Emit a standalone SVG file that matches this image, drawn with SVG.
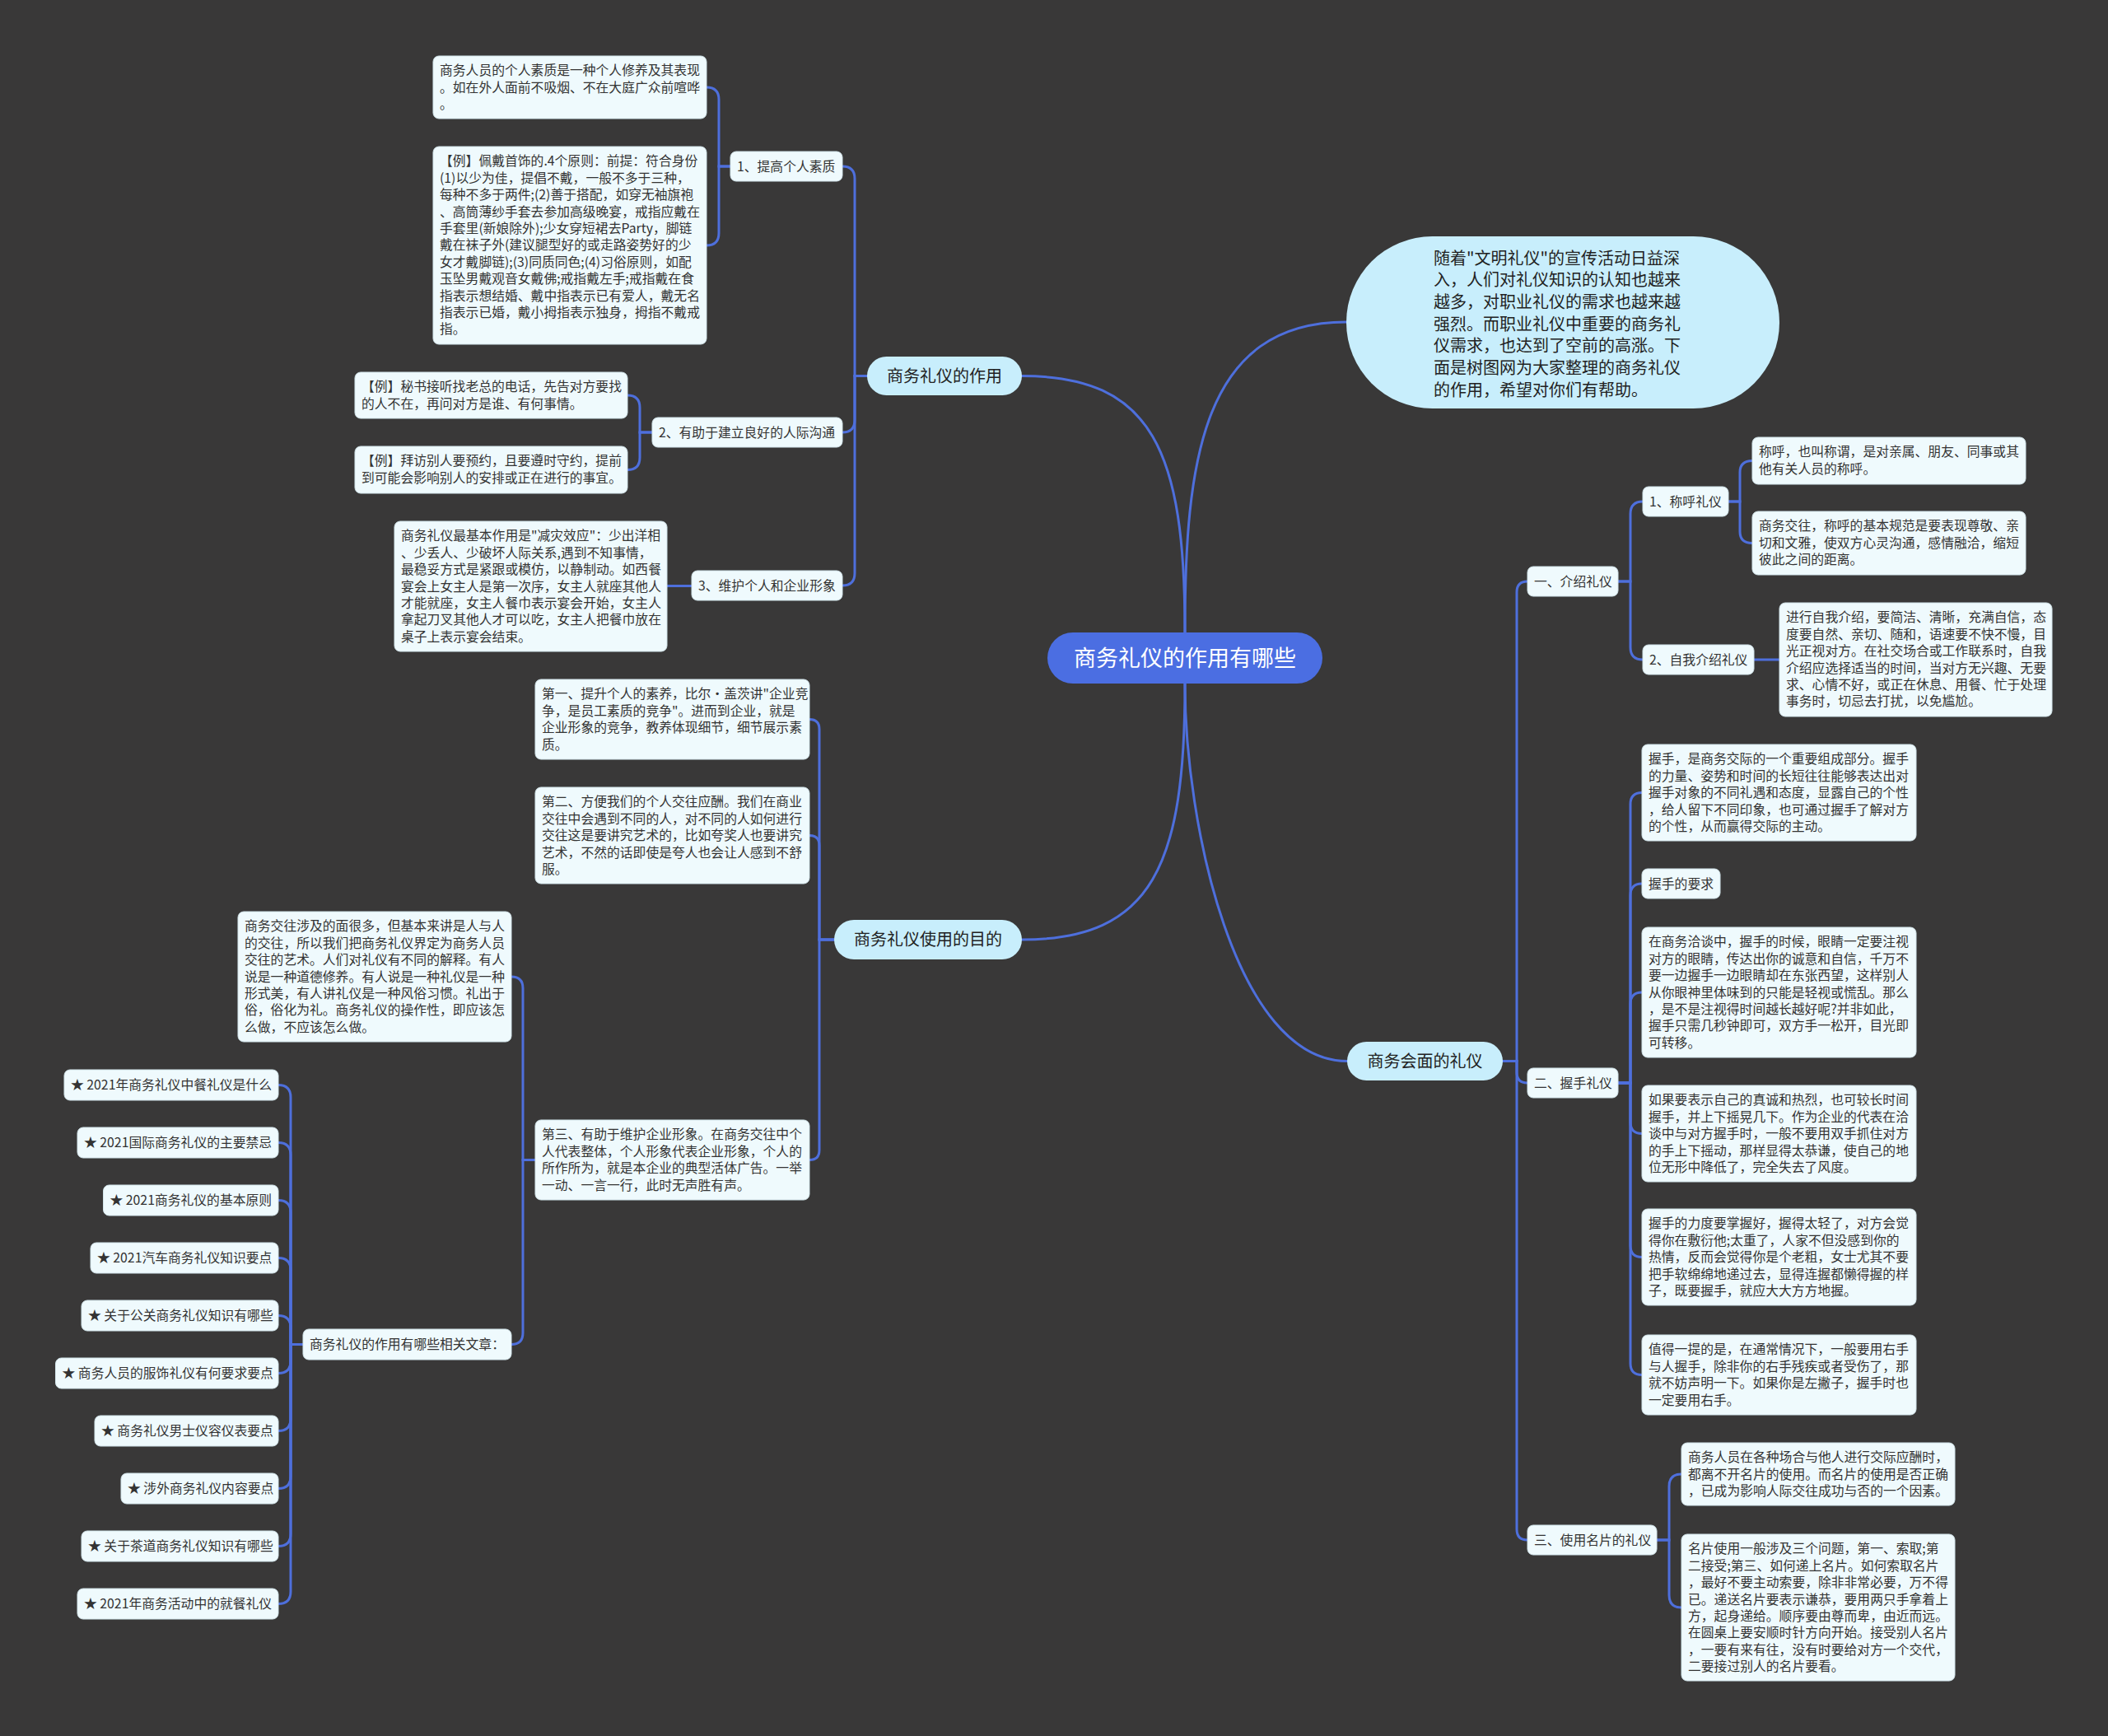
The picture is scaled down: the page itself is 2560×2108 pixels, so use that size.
<svg xmlns="http://www.w3.org/2000/svg" width="2560" height="2108" viewBox="0 0 2560 2108">
<style>
.box{fill:#effafd;stroke:#d2e4ea;stroke-width:1}
.t{font-family:"Noto Sans CJK SC","Noto Sans",sans-serif;font-size:15.8px;fill:#333333}
.pill{fill:#c8eefc}
.pt{font-family:"Noto Sans CJK SC","Noto Sans",sans-serif;font-size:20px;fill:#222222;text-anchor:middle}
.bt{font-family:"Noto Sans CJK SC","Noto Sans",sans-serif;font-size:20px;fill:#222222}
.root{fill:#4b6ee2}
.rt{font-family:"Noto Sans CJK SC","Noto Sans",sans-serif;font-size:27px;fill:#ffffff;text-anchor:middle}
.ln{fill:none;stroke:#4e6fdc;stroke-width:3;stroke-linecap:round}
</style>
<rect x="0" y="0" width="2560" height="2108" fill="#393838"/>
<g id="connectors">
<path class="ln" d="M1439,768 C1439,548 1400,456.5 1241,456.5"/>
<path class="ln" d="M1439,768 C1439,560 1460,391 1635,391"/>
<path class="ln" d="M1439,830 C1439,1050 1400,1141 1241,1141"/>
<path class="ln" d="M1439,830 C1439,1000 1500,1288.5 1636,1288.5"/>
<path class="ln" d="M1053,456.5 H1038 V217 Q1038,202 1023,202"/>
<path class="ln" d="M1053,456.5 H1038 V510 Q1038,525 1023,525"/>
<path class="ln" d="M1053,456.5 H1038 V696 Q1038,711 1023,711"/>
<path class="ln" d="M887,202 H873 V121 Q873,106 858,106"/>
<path class="ln" d="M887,202 H873 V283 Q873,298 858,298"/>
<path class="ln" d="M792,525 H777 V495 Q777,480 762,480"/>
<path class="ln" d="M792,525 H777 V555.5 Q777,570.5 762,570.5"/>
<path class="ln" d="M840,711.5 H810"/>
<path class="ln" d="M1013,1141 H995 V885.5 Q995,873.5 983,873.5"/>
<path class="ln" d="M1013,1141 H995 V1026.5 Q995,1014.5 983,1014.5"/>
<path class="ln" d="M1013,1141 H995 V1396.5 Q995,1408.5 983,1408.5"/>
<path class="ln" d="M650,1408.5 H635 V1200 Q635,1186 621,1186"/>
<path class="ln" d="M650,1408.5 H635 V1618.5 Q635,1632.5 621,1632.5"/>
<path class="ln" d="M368,1632.5 H353 V1332.5 Q353,1317.5 338,1317.5"/>
<path class="ln" d="M368,1632.5 H353 V1402.5 Q353,1387.5 338,1387.5"/>
<path class="ln" d="M368,1632.5 H353 V1472.5 Q353,1457.5 338,1457.5"/>
<path class="ln" d="M368,1632.5 H353 V1542.5 Q353,1527.5 338,1527.5"/>
<path class="ln" d="M368,1632.5 H353 V1612.5 Q353,1597.5 338,1597.5"/>
<path class="ln" d="M368,1632.5 H353 V1652.5 Q353,1667.5 338,1667.5"/>
<path class="ln" d="M368,1632.5 H353 V1722.5 Q353,1737.5 338,1737.5"/>
<path class="ln" d="M368,1632.5 H353 V1792.5 Q353,1807.5 338,1807.5"/>
<path class="ln" d="M368,1632.5 H353 V1862.5 Q353,1877.5 338,1877.5"/>
<path class="ln" d="M368,1632.5 H353 V1932.5 Q353,1947.5 338,1947.5"/>
<path class="ln" d="M1825,1288.5 H1842 V719 Q1842,706 1855,706"/>
<path class="ln" d="M1825,1288.5 H1842 V1302 Q1842,1315 1855,1315"/>
<path class="ln" d="M1825,1288.5 H1842 V1857 Q1842,1870 1855,1870"/>
<path class="ln" d="M1965,706 H1980 V624 Q1980,609 1995,609"/>
<path class="ln" d="M1965,706 H1980 V786 Q1980,801 1995,801"/>
<path class="ln" d="M2099,609 H2113 V573.5 Q2113,559.5 2128,559.5"/>
<path class="ln" d="M2099,609 H2113 V645.5 Q2113,659.5 2128,659.5"/>
<path class="ln" d="M2130,801 H2161"/>
<path class="ln" d="M1965,1315 H1980 V976.5 Q1980,962.5 1994,962.5"/>
<path class="ln" d="M1965,1315 H1980 V1087 Q1980,1073 1994,1073"/>
<path class="ln" d="M1965,1315 H1980 V1219 Q1980,1205 1994,1205"/>
<path class="ln" d="M1965,1315 H1980 V1362.5 Q1980,1376.5 1994,1376.5"/>
<path class="ln" d="M1965,1315 H1980 V1512.5 Q1980,1526.5 1994,1526.5"/>
<path class="ln" d="M1965,1315 H1980 V1655.5 Q1980,1669.5 1994,1669.5"/>
<path class="ln" d="M2012,1870 H2027 V1805 Q2027,1790 2042,1790"/>
<path class="ln" d="M2012,1870 H2027 V1937 Q2027,1952 2042,1952"/>
</g>
<g id="root">
<rect class="root" x="1272" y="768" width="334" height="62" rx="31"/>
<text class="rt" x="1439" y="808.7">商务礼仪的作用有哪些</text>
</g>
<g id="intro">
<rect class="pill" x="1635" y="287" width="526" height="209" rx="104.5"/>
<text class="bt" x="1741" y="320.5">随着"文明礼仪"的宣传活动日益深</text>
<text class="bt" x="1741" y="347.2">入，人们对礼仪知识的认知也越来</text>
<text class="bt" x="1741" y="373.9">越多，对职业礼仪的需求也越来越</text>
<text class="bt" x="1741" y="400.6">强烈。而职业礼仪中重要的商务礼</text>
<text class="bt" x="1741" y="427.3">仪需求，也达到了空前的高涨。下</text>
<text class="bt" x="1741" y="454">面是树图网为大家整理的商务礼仪</text>
<text class="bt" x="1741" y="480.7">的作用，希望对你们有帮助。</text>
</g>
<g id="b-zuoyong">
<rect class="pill" x="1053" y="433" width="188" height="47" rx="23.5"/>
<text class="pt" x="1147" y="463.7">商务礼仪的作用</text>
</g>
<g id="b-mudi">
<rect class="pill" x="1013" y="1117" width="228" height="48" rx="24"/>
<text class="pt" x="1127" y="1148.2">商务礼仪使用的目的</text>
</g>
<g id="b-huimian">
<rect class="pill" x="1636" y="1265" width="189" height="47" rx="23.5"/>
<text class="pt" x="1730.5" y="1295.7">商务会面的礼仪</text>
</g>
<g id="n-suzhi">
<rect class="box" x="887" y="184" width="136" height="36" rx="7"/>
<text class="t" x="895" y="207.7">1、提高个人素质</text>
</g>
<g id="n-a">
<rect class="box" x="526" y="68" width="332" height="76" rx="7"/>
<text class="t" x="534" y="91.4">商务人员的个人素质是一种个人修养及其表现</text>
<text class="t" x="534" y="111.8">。如在外人面前不吸烟、不在大庭广众前喧哗</text>
<text class="t" x="534" y="132.2">。</text>
</g>
<g id="n-b">
<rect class="box" x="526" y="178" width="332" height="240" rx="7"/>
<text class="t" x="534" y="201.4">【例】佩戴首饰的.4个原则：前提：符合身份</text>
<text class="t" x="534" y="221.8">(1)以少为佳，提倡不戴，一般不多于三种，</text>
<text class="t" x="534" y="242.2">每种不多于两件;(2)善于搭配，如穿无袖旗袍</text>
<text class="t" x="534" y="262.6">、高筒薄纱手套去参加高级晚宴，戒指应戴在</text>
<text class="t" x="534" y="283">手套里(新娘除外);少女穿短裙去Party，脚链</text>
<text class="t" x="534" y="303.4">戴在袜子外(建议腿型好的或走路姿势好的少</text>
<text class="t" x="534" y="323.8">女才戴脚链);(3)同质同色;(4)习俗原则，如配</text>
<text class="t" x="534" y="344.2">玉坠男戴观音女戴佛;戒指戴左手;戒指戴在食</text>
<text class="t" x="534" y="364.6">指表示想结婚、戴中指表示已有爱人，戴无名</text>
<text class="t" x="534" y="385">指表示已婚，戴小拇指表示独身，拇指不戴戒</text>
<text class="t" x="534" y="405.4">指。</text>
</g>
<g id="n-goutong">
<rect class="box" x="792" y="507" width="231" height="36" rx="7"/>
<text class="t" x="800" y="530.7">2、有助于建立良好的人际沟通</text>
</g>
<g id="n-c">
<rect class="box" x="431" y="452" width="331" height="56" rx="7"/>
<text class="t" x="439" y="475.4">【例】秘书接听找老总的电话，先告对方要找</text>
<text class="t" x="439" y="495.8">的人不在，再问对方是谁、有何事情。</text>
</g>
<g id="n-d">
<rect class="box" x="431" y="542" width="331" height="57" rx="7"/>
<text class="t" x="439" y="565.4">【例】拜访别人要预约，且要遵时守约，提前</text>
<text class="t" x="439" y="585.8">到可能会影响别人的安排或正在进行的事宜。</text>
</g>
<g id="n-xingxiang">
<rect class="box" x="840" y="693" width="183" height="36" rx="7"/>
<text class="t" x="848" y="716.7">3、维护个人和企业形象</text>
</g>
<g id="n-e">
<rect class="box" x="479" y="633" width="331" height="158" rx="7"/>
<text class="t" x="487" y="656.4">商务礼仪最基本作用是"减灾效应"：少出洋相</text>
<text class="t" x="487" y="676.8">、少丢人、少破坏人际关系,遇到不知事情，</text>
<text class="t" x="487" y="697.2">最稳妥方式是紧跟或模仿，以静制动。如西餐</text>
<text class="t" x="487" y="717.6">宴会上女主人是第一次序，女主人就座其他人</text>
<text class="t" x="487" y="738">才能就座，女主人餐巾表示宴会开始，女主人</text>
<text class="t" x="487" y="758.4">拿起刀叉其他人才可以吃，女主人把餐巾放在</text>
<text class="t" x="487" y="778.8">桌子上表示宴会结束。</text>
</g>
<g id="n-di1">
<rect class="box" x="650" y="825" width="333" height="97" rx="7"/>
<text class="t" x="658" y="848.4">第一、提升个人的素养，比尔·盖茨讲"企业竞</text>
<text class="t" x="658" y="868.8">争，是员工素质的竞争"。进而到企业，就是</text>
<text class="t" x="658" y="889.2">企业形象的竞争，教养体现细节，细节展示素</text>
<text class="t" x="658" y="909.6">质。</text>
</g>
<g id="n-di2">
<rect class="box" x="650" y="956" width="333" height="117" rx="7"/>
<text class="t" x="658" y="979.4">第二、方便我们的个人交往应酬。我们在商业</text>
<text class="t" x="658" y="999.8">交往中会遇到不同的人，对不同的人如何进行</text>
<text class="t" x="658" y="1020.2">交往这是要讲究艺术的，比如夸奖人也要讲究</text>
<text class="t" x="658" y="1040.6">艺术，不然的话即使是夸人也会让人感到不舒</text>
<text class="t" x="658" y="1061">服。</text>
</g>
<g id="n-di3">
<rect class="box" x="650" y="1360" width="333" height="97" rx="7"/>
<text class="t" x="658" y="1383.4">第三、有助于维护企业形象。在商务交往中个</text>
<text class="t" x="658" y="1403.8">人代表整体，个人形象代表企业形象，个人的</text>
<text class="t" x="658" y="1424.2">所作所为，就是本企业的典型活体广告。一举</text>
<text class="t" x="658" y="1444.6">一动、一言一行，此时无声胜有声。</text>
</g>
<g id="n-jiaowang">
<rect class="box" x="289" y="1107" width="332" height="158" rx="7"/>
<text class="t" x="297" y="1130.4">商务交往涉及的面很多，但基本来讲是人与人</text>
<text class="t" x="297" y="1150.8">的交往，所以我们把商务礼仪界定为商务人员</text>
<text class="t" x="297" y="1171.2">交往的艺术。人们对礼仪有不同的解释。有人</text>
<text class="t" x="297" y="1191.6">说是一种道德修养。有人说是一种礼仪是一种</text>
<text class="t" x="297" y="1212">形式美，有人讲礼仪是一种风俗习惯。礼出于</text>
<text class="t" x="297" y="1232.4">俗，俗化为礼。商务礼仪的操作性，即应该怎</text>
<text class="t" x="297" y="1252.8">么做，不应该怎么做。</text>
</g>
<g id="n-xiangguan">
<rect class="box" x="368" y="1614" width="253" height="37" rx="7"/>
<text class="t" x="376" y="1638.2">商务礼仪的作用有哪些相关文章：</text>
</g>
<g id="n-r1"><rect class="box" x="78" y="1299" width="260" height="37" rx="7"/><text class="t" x="86" y="1323.2">★ 2021年商务礼仪中餐礼仪是什么</text></g>
<g id="n-r2"><rect class="box" x="94" y="1369" width="244" height="37" rx="7"/><text class="t" x="102" y="1393.2">★ 2021国际商务礼仪的主要禁忌</text></g>
<g id="n-r3"><rect class="box" x="125.5" y="1439" width="212.5" height="37" rx="7"/><text class="t" x="133.5" y="1463.2">★ 2021商务礼仪的基本原则</text></g>
<g id="n-r4"><rect class="box" x="110" y="1509" width="228" height="37" rx="7"/><text class="t" x="118" y="1533.2">★ 2021汽车商务礼仪知识要点</text></g>
<g id="n-r5"><rect class="box" x="99" y="1579" width="239" height="37" rx="7"/><text class="t" x="107" y="1603.2">★ 关于公关商务礼仪知识有哪些</text></g>
<g id="n-r6"><rect class="box" x="67.5" y="1649" width="270.5" height="37" rx="7"/><text class="t" x="75.5" y="1673.2">★ 商务人员的服饰礼仪有何要求要点</text></g>
<g id="n-r7"><rect class="box" x="115" y="1719" width="223" height="37" rx="7"/><text class="t" x="123" y="1743.2">★ 商务礼仪男士仪容仪表要点</text></g>
<g id="n-r8"><rect class="box" x="147" y="1789" width="191" height="37" rx="7"/><text class="t" x="155" y="1813.2">★ 涉外商务礼仪内容要点</text></g>
<g id="n-r9"><rect class="box" x="99" y="1859" width="239" height="37" rx="7"/><text class="t" x="107" y="1883.2">★ 关于茶道商务礼仪知识有哪些</text></g>
<g id="n-r10"><rect class="box" x="94" y="1929" width="244" height="37" rx="7"/><text class="t" x="102" y="1953.2">★ 2021年商务活动中的就餐礼仪</text></g>
<g id="n-jieshao">
<rect class="box" x="1855" y="688" width="110" height="36" rx="7"/>
<text class="t" x="1863" y="711.7">一、介绍礼仪</text>
</g>
<g id="n-chenghu">
<rect class="box" x="1995" y="591" width="104" height="36" rx="7"/>
<text class="t" x="2003" y="614.7">1、称呼礼仪</text>
</g>
<g id="n-f">
<rect class="box" x="2128" y="531" width="332" height="57" rx="7"/>
<text class="t" x="2136" y="554.4">称呼，也叫称谓，是对亲属、朋友、同事或其</text>
<text class="t" x="2136" y="574.8">他有关人员的称呼。</text>
</g>
<g id="n-g">
<rect class="box" x="2128" y="621" width="332" height="77" rx="7"/>
<text class="t" x="2136" y="644.4">商务交往，称呼的基本规范是要表现尊敬、亲</text>
<text class="t" x="2136" y="664.8">切和文雅，使双方心灵沟通，感情融洽，缩短</text>
<text class="t" x="2136" y="685.2">彼此之间的距离。</text>
</g>
<g id="n-ziwo">
<rect class="box" x="1995" y="783" width="135" height="36" rx="7"/>
<text class="t" x="2003" y="806.7">2、自我介绍礼仪</text>
</g>
<g id="n-h">
<rect class="box" x="2161" y="732" width="331" height="138" rx="7"/>
<text class="t" x="2169" y="755.4">进行自我介绍，要简洁、清晰，充满自信，态</text>
<text class="t" x="2169" y="775.8">度要自然、亲切、随和，语速要不快不慢，目</text>
<text class="t" x="2169" y="796.2">光正视对方。在社交场合或工作联系时，自我</text>
<text class="t" x="2169" y="816.6">介绍应选择适当的时间，当对方无兴趣、无要</text>
<text class="t" x="2169" y="837">求、心情不好，或正在休息、用餐、忙于处理</text>
<text class="t" x="2169" y="857.4">事务时，切忌去打扰，以免尴尬。</text>
</g>
<g id="n-woshou">
<rect class="box" x="1855" y="1297" width="110" height="36" rx="7"/>
<text class="t" x="1863" y="1320.7">二、握手礼仪</text>
</g>
<g id="n-i">
<rect class="box" x="1994" y="904" width="333" height="117" rx="7"/>
<text class="t" x="2002" y="927.4">握手，是商务交际的一个重要组成部分。握手</text>
<text class="t" x="2002" y="947.8">的力量、姿势和时间的长短往往能够表达出对</text>
<text class="t" x="2002" y="968.2">握手对象的不同礼遇和态度，显露自己的个性</text>
<text class="t" x="2002" y="988.6">，给人留下不同印象，也可通过握手了解对方</text>
<text class="t" x="2002" y="1009">的个性，从而赢得交际的主动。</text>
</g>
<g id="n-j">
<rect class="box" x="1994" y="1055" width="95" height="36" rx="7"/>
<text class="t" x="2002" y="1078.7">握手的要求</text>
</g>
<g id="n-k">
<rect class="box" x="1994" y="1126" width="333" height="158" rx="7"/>
<text class="t" x="2002" y="1149.4">在商务洽谈中，握手的时候，眼睛一定要注视</text>
<text class="t" x="2002" y="1169.8">对方的眼睛，传达出你的诚意和自信，千万不</text>
<text class="t" x="2002" y="1190.2">要一边握手一边眼睛却在东张西望，这样别人</text>
<text class="t" x="2002" y="1210.6">从你眼神里体味到的只能是轻视或慌乱。那么</text>
<text class="t" x="2002" y="1231">，是不是注视得时间越长越好呢?并非如此，</text>
<text class="t" x="2002" y="1251.4">握手只需几秒钟即可，双方手一松开，目光即</text>
<text class="t" x="2002" y="1271.8">可转移。</text>
</g>
<g id="n-l">
<rect class="box" x="1994" y="1318" width="333" height="117" rx="7"/>
<text class="t" x="2002" y="1341.4">如果要表示自己的真诚和热烈，也可较长时间</text>
<text class="t" x="2002" y="1361.8">握手，并上下摇晃几下。作为企业的代表在洽</text>
<text class="t" x="2002" y="1382.2">谈中与对方握手时，一般不要用双手抓住对方</text>
<text class="t" x="2002" y="1402.6">的手上下摇动，那样显得太恭谦，使自己的地</text>
<text class="t" x="2002" y="1423">位无形中降低了，完全失去了风度。</text>
</g>
<g id="n-m">
<rect class="box" x="1994" y="1468" width="333" height="117" rx="7"/>
<text class="t" x="2002" y="1491.4">握手的力度要掌握好，握得太轻了，对方会觉</text>
<text class="t" x="2002" y="1511.8">得你在敷衍他;太重了，人家不但没感到你的</text>
<text class="t" x="2002" y="1532.2">热情，反而会觉得你是个老粗，女士尤其不要</text>
<text class="t" x="2002" y="1552.6">把手软绵绵地递过去，显得连握都懒得握的样</text>
<text class="t" x="2002" y="1573">子，既要握手，就应大大方方地握。</text>
</g>
<g id="n-n">
<rect class="box" x="1994" y="1621" width="333" height="97" rx="7"/>
<text class="t" x="2002" y="1644.4">值得一提的是，在通常情况下，一般要用右手</text>
<text class="t" x="2002" y="1664.8">与人握手，除非你的右手残疾或者受伤了，那</text>
<text class="t" x="2002" y="1685.2">就不妨声明一下。如果你是左撇子，握手时也</text>
<text class="t" x="2002" y="1705.6">一定要用右手。</text>
</g>
<g id="n-mingpian">
<rect class="box" x="1855" y="1852" width="157" height="36" rx="7"/>
<text class="t" x="1863" y="1875.7">三、使用名片的礼仪</text>
</g>
<g id="n-o">
<rect class="box" x="2042" y="1752" width="332" height="76" rx="7"/>
<text class="t" x="2050" y="1775.4">商务人员在各种场合与他人进行交际应酬时，</text>
<text class="t" x="2050" y="1795.8">都离不开名片的使用。而名片的使用是否正确</text>
<text class="t" x="2050" y="1816.2">，已成为影响人际交往成功与否的一个因素。</text>
</g>
<g id="n-p">
<rect class="box" x="2042" y="1863" width="332" height="178" rx="7"/>
<text class="t" x="2050" y="1886.4">名片使用一般涉及三个问题，第一、索取;第</text>
<text class="t" x="2050" y="1906.8">二接受;第三、如何递上名片。如何索取名片</text>
<text class="t" x="2050" y="1927.2">，最好不要主动索要，除非非常必要，万不得</text>
<text class="t" x="2050" y="1947.6">已。递送名片要表示谦恭，要用两只手拿着上</text>
<text class="t" x="2050" y="1968">方，起身递给。顺序要由尊而卑，由近而远。</text>
<text class="t" x="2050" y="1988.4">在圆桌上要安顺时针方向开始。接受别人名片</text>
<text class="t" x="2050" y="2008.8">，一要有来有往，没有时要给对方一个交代，</text>
<text class="t" x="2050" y="2029.2">二要接过别人的名片要看。</text>
</g>
</svg>
